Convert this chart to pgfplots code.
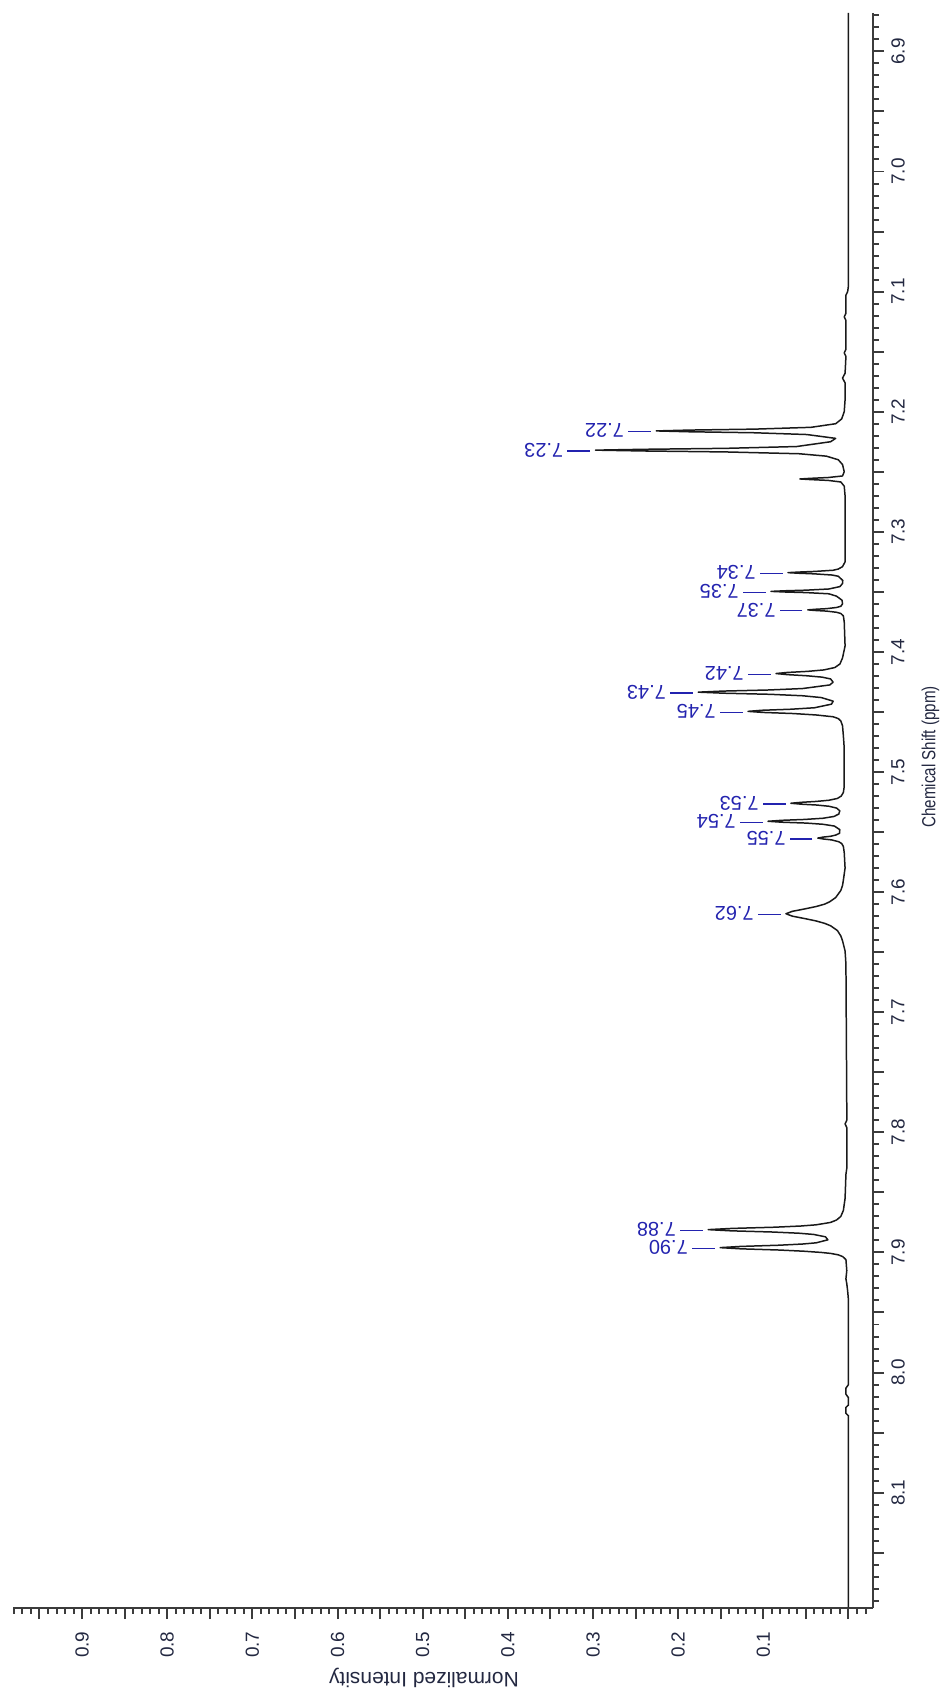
\documentclass[border=0pt]{standalone}
\usepackage{fontspec}
\setmainfont{Liberation Sans}
\usepackage{graphicx}
\usepackage{pgfplots}
\usepackage{pgfplotstable}
\pgfplotsset{compat=1.18}
\definecolor{axgray}{RGB}{60,60,60}
\definecolor{spec}{RGB}{25,25,25}
\definecolor{lblue}{RGB}{35,35,175}
\definecolor{tickc}{RGB}{35,40,65}

\pgfplotstableread{
shift int
6.868 0.000
7.095 0.000
7.100 0.001
7.103 0.003
7.118 0.003
7.121 0.005
7.124 0.003
7.148 0.003
7.151 0.005
7.154 0.003
7.168 0.004
7.172 0.007
7.176 0.004
7.190 0.004
7.200 0.005
7.206 0.008
7.210 0.015
7.213 0.044
7.2145 0.110
7.2153 0.187
7.216 0.2257
7.2167 0.187
7.2175 0.112
7.219 0.049
7.2222 0.015
7.225 0.021
7.229 0.061
7.2305 0.144
7.2313 0.240
7.232 0.2971
7.2327 0.240
7.2335 0.144
7.235 0.058
7.237 0.026
7.240 0.012
7.244 0.007
7.250 0.005
7.2535 0.007
7.2548 0.024
7.2555 0.045
7.256 0.057
7.2565 0.045
7.2572 0.024
7.2585 0.009
7.262 0.005
7.270 0.004
7.325 0.004
7.329 0.007
7.331 0.012
7.332 0.018
7.333 0.040
7.3335 0.058
7.334 0.0711
7.3345 0.058
7.335 0.040
7.336 0.019
7.337 0.012
7.3405 0.0067
7.343 0.007
7.3456 0.010
7.3476 0.023
7.3486 0.050
7.3491 0.075
7.3496 0.091
7.3501 0.075
7.3506 0.050
7.3516 0.023
7.3536 0.014
7.357 0.0075
7.360 0.007
7.362 0.009
7.363 0.014
7.364 0.026
7.3645 0.039
7.365 0.0477
7.3655 0.039
7.366 0.026
7.367 0.014
7.368 0.009
7.370 0.006
7.375 0.005
7.395 0.004
7.405 0.007
7.410 0.010
7.413 0.016
7.415 0.029
7.4162 0.048
7.4171 0.072
7.418 0.0851
7.4189 0.072
7.4198 0.050
7.421 0.031
7.4225 0.021
7.4252 0.018
7.4275 0.022
7.4305 0.054
7.4317 0.094
7.4326 0.147
7.4335 0.1765
7.4344 0.145
7.4353 0.092
7.4365 0.054
7.438 0.032
7.441 0.018
7.4435 0.020
7.4465 0.040
7.4477 0.067
7.4486 0.102
7.4495 0.118
7.4504 0.100
7.4513 0.065
7.4525 0.038
7.454 0.018
7.4555 0.012
7.4575 0.009
7.4615 0.007
7.470 0.006
7.480 0.005
7.505 0.005
7.512 0.005
7.517 0.006
7.520 0.0085
7.522 0.013
7.5235 0.023
7.5245 0.038
7.5252 0.055
7.526 0.0676
7.5268 0.055
7.5275 0.037
7.5285 0.023
7.530 0.014
7.5323 0.0102
7.535 0.0114
7.537 0.017
7.5385 0.030
7.5395 0.052
7.5402 0.078
7.541 0.0945
7.5418 0.078
7.5425 0.050
7.5435 0.030
7.545 0.0165
7.548 0.0102
7.551 0.0105
7.5525 0.015
7.5535 0.021
7.5542 0.030
7.555 0.036
7.5558 0.029
7.5565 0.020
7.558 0.0116
7.5595 0.008
7.562 0.006
7.567 0.005
7.580 0.004
7.590 0.006
7.5945 0.007
7.5986 0.009
7.6045 0.015
7.608 0.022
7.610 0.028
7.612 0.038
7.614 0.0515
7.616 0.066
7.618 0.0734
7.620 0.066
7.622 0.0515
7.624 0.038
7.626 0.028
7.628 0.021
7.632 0.013
7.6365 0.009
7.6405 0.007
7.649 0.004
7.660 0.003
7.780 0.002
7.790 0.002
7.793 0.004
7.796 0.002
7.830 0.002
7.835 0.003
7.855 0.004
7.865 0.006
7.870 0.009
7.873 0.014
7.875 0.021
7.877 0.038
7.878 0.056
7.879 0.087
7.880 0.137
7.881 0.1648
7.882 0.138
7.883 0.089
7.884 0.058
7.885 0.041
7.887 0.027
7.8895 0.0242
7.892 0.038
7.893 0.054
7.894 0.082
7.895 0.127
7.896 0.1507
7.897 0.126
7.898 0.081
7.899 0.052
7.900 0.032
7.9008 0.021
7.902 0.012
7.9035 0.0067
7.906 0.003
7.915 0.002
7.922 0.003
7.926 0.002
7.932 0.001
7.940 0.000
8.010 0.000
8.013 0.003
8.018 0.003
8.021 0.000
8.027 0.000
8.029 0.003
8.034 0.003
8.036 0.000
8.1955 0.000
}\spectrum

\pgfplotstableread{
shift int lab
7.216 0.2257 7.22
7.232 0.2971 7.23
7.334 0.0711 7.34
7.3496 0.0910 7.35
7.365 0.0477 7.37
7.418 0.0851 7.42
7.4335 0.1765 7.43
7.4495 0.1180 7.45
7.526 0.0676 7.53
7.541 0.0945 7.54
7.555 0.0360 7.55
7.618 0.0734 7.62
7.881 0.1648 7.88
7.896 0.1507 7.90
}\peaks

\begin{document}
\begin{tikzpicture}
\begin{axis}[
  scale only axis, width=431.15pt, height=799.35pt,
  at={(0,0)}, anchor=south west,
  x dir=reverse, y dir=reverse,
  xmin=-0.0285, xmax=0.9815, ymin=6.868, ymax=8.1957,
  axis x line=bottom, axis y line=right,
  axis line style={-, line width=1pt, draw=axgray},
  tick align=outside,
  major tick length=5.75pt, minor tick length=3pt,
  tick style={line width=1pt, draw=axgray},
  xtick={0,0.05,0.1,0.15,0.2,0.25,0.3,0.35,0.4,0.45,0.5,0.55,0.6,0.65,0.7,0.75,0.8,0.85,0.9,0.95},
  xticklabels={,,0.1,,0.2,,0.3,,0.4,,0.5,,0.6,,0.7,,0.8,,0.9,},
  minor xtick={-0.02,-0.01,...,0.98},
  ytick={6.9,6.95,7,7.05,7.1,7.15,7.2,7.25,7.3,7.35,7.4,7.45,7.5,7.55,7.6,7.65,7.7,7.75,7.8,7.85,7.9,7.95,8,8.05,8.1,8.15},
  yticklabels={6.9,,7.0,,7.1,,7.2,,7.3,,7.4,,7.5,,7.6,,7.7,,7.8,,7.9,,8.0,,8.1,},
  minor ytick={6.87,6.88,...,8.19},
  xticklabel style={rotate=90, anchor=east, font=\fontsize{9.5}{11}\selectfont, text=tickc},
  yticklabel style={rotate=90, anchor=north, font=\fontsize{9.5}{11}\selectfont, text=tickc},
  xticklabel shift=2.75pt,
  clip=false,
]
\addplot[spec, line width=0.75pt, line join=round, mark=none] table[x=int, y=shift] {\spectrum};
\addplot[draw=none, mark=none, point meta=explicit symbolic,
  nodes near coords={\rule[3.55pt]{11.5pt}{0.6pt}\hspace{2pt}\pgfplotspointmeta},
  nodes near coords style={anchor=west, rotate=180, inner xsep=2.5pt, inner ysep=0pt,
    font=\fontsize{10}{12}\selectfont, text=lblue}
] table[x=int, y=shift, meta=lab] {\peaks};
\node[rotate=180, font=\fontsize{10.5}{12}\selectfont, text=tickc] at (axis cs:0.4986,8.254) {Normalized Intensity};
\node[rotate=90, font=\fontsize{9.5}{11}\selectfont, text=tickc] at (axis cs:-0.0964,7.4875) {\scalebox{0.8}[1]{Chemical Shift (ppm)}};
\end{axis}
\path (-6.35pt,-41.15pt) rectangle (466.65pt,805.85pt);
\end{tikzpicture}
\end{document}
